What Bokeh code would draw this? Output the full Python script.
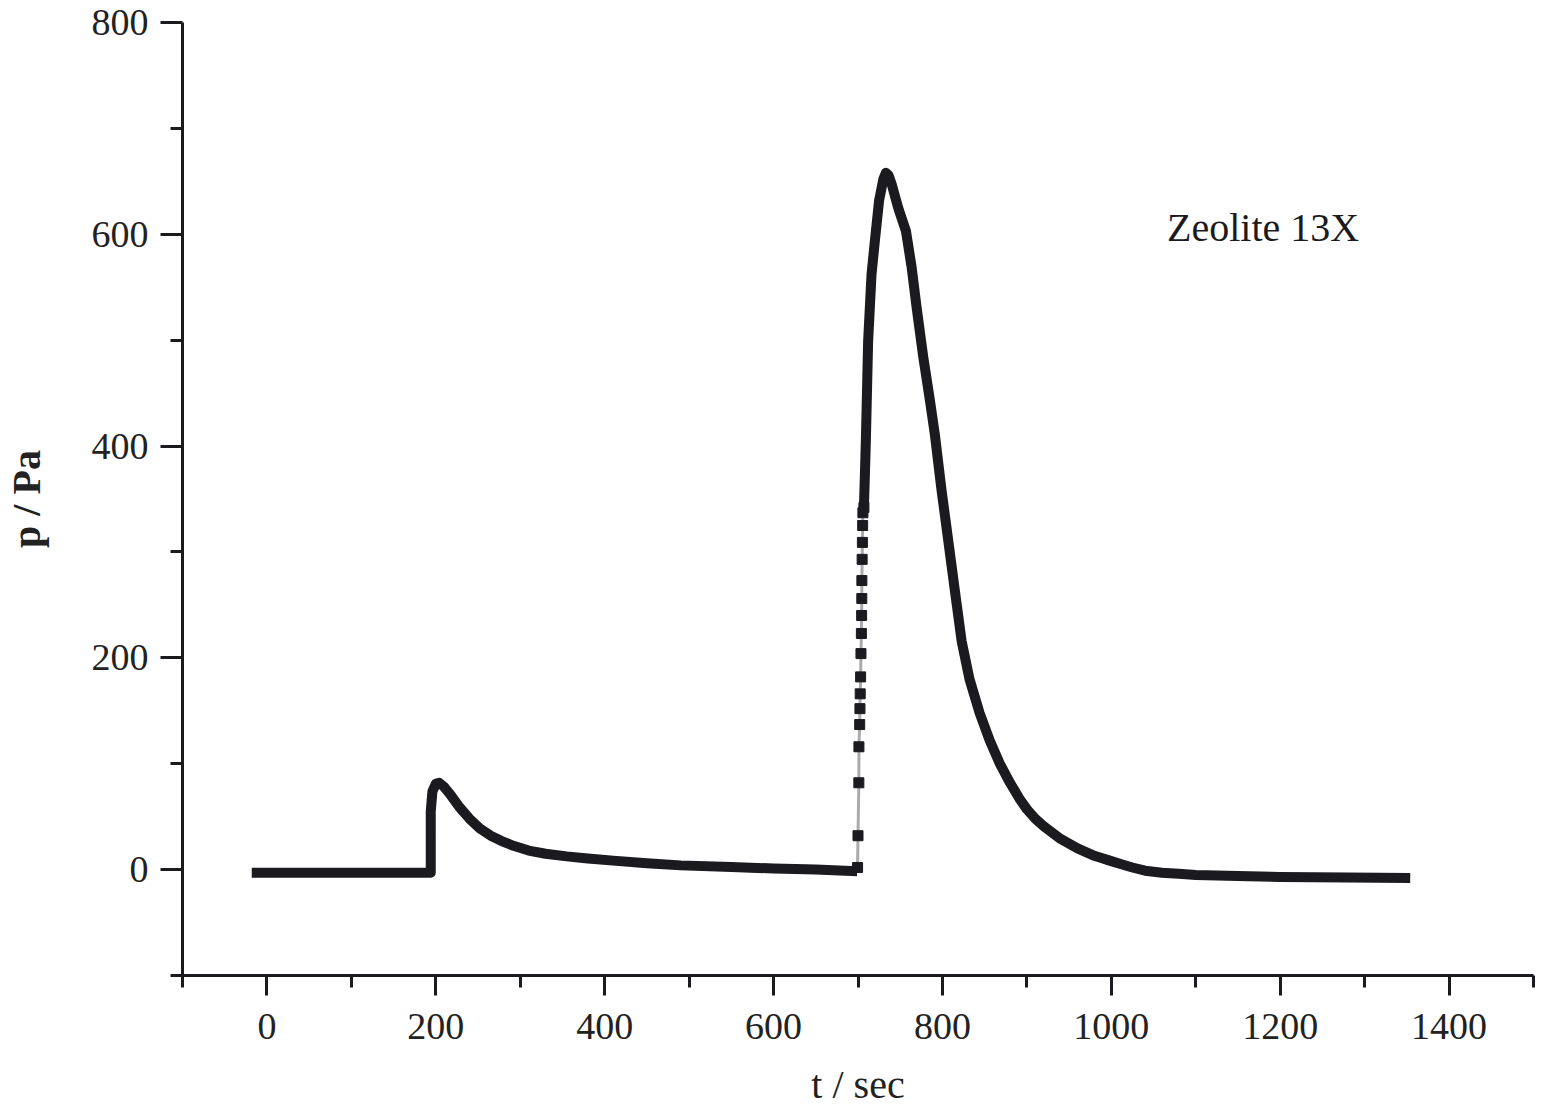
from bokeh.plotting import figure
from bokeh.models import Range1d, FixedTicker, ColumnDataSource
from bokeh.core.properties import value
from bokeh.embed import file_html
from bokeh.resources import INLINE

# ---- data ----
# segment 1: baseline, small adsorption peak and its decay (t in s, p in Pa)
t_seg1 = [-18, 100, 194, 194, 196, 200, 204, 210, 218, 228, 240, 252, 265, 278, 292,
          310, 330, 355, 380, 410, 450, 490, 550, 600, 650, 699]
p_seg1 = [-3, -3, -3, 55, 74, 81, 82, 78, 70, 59, 48, 39, 32, 27, 22.5,
          18, 15, 12.5, 10.5, 8.5, 6, 4, 2.5, 1, 0, -1.5]

# steep rise: individual sample points
t_rise = [699.5, 700, 701, 701.1, 702, 702.3, 702.6, 703.1, 703.5, 704, 704.3, 704.5,
          704.6, 704.9, 705.2, 705.5, 705.8, 707]
p_rise = [2, 32, 82, 116, 137, 152, 166, 182, 204, 223, 240, 256, 273, 293, 309,
          325, 337, 342]

# segment 2: large peak and its decay
t_seg2 = [707, 708.2, 709.4, 712, 716, 720, 725, 730, 733, 736, 740, 747.6, 756.8, 763.5,
          769.4, 777.3, 785.2, 791, 799, 807, 814.8, 822.7, 832, 844, 856, 868,
          880, 892, 900, 910, 920, 940, 960, 980, 1000, 1012, 1025, 1040, 1060, 1080,
          1100, 1150, 1200, 1280, 1354]
p_seg2 = [342, 374, 408, 499, 562, 594, 632, 652, 658, 656, 647, 625, 603, 569,
          531, 484, 443, 411, 358, 310, 263, 216, 180, 148, 122, 100,
          82, 66, 57, 48, 41, 29, 20, 13, 8, 5, 2, -1, -3, -4,
          -5, -6, -7, -7.5, -8]

label_text = ["Zeolite 13X"]
label_x = [1066]
label_y = [606]

x_major = [0, 200, 400, 600, 800, 1000, 1200, 1400]
x_minor = [-100, 100, 300, 500, 700, 900, 1100, 1300, 1500]
y_major = [0, 200, 400, 600, 800]
y_minor = [-100, 100, 300, 500, 700]

INK = "#1b1b1f"
FONT = "Liberation Serif"

p = figure(width=1542, height=1117,
           x_range=Range1d(-100, 1500), y_range=Range1d(-100, 800),
           output_backend="svg", toolbar_location=None,
           min_border_left=182, min_border_right=9,
           min_border_top=22, min_border_bottom=142)
p.outline_line_color = None
p.xgrid.grid_line_color = None
p.ygrid.grid_line_color = None
p.background_fill_color = "white"
p.border_fill_color = "white"

# curve
p.line(t_seg1, p_seg1, line_color=INK, line_width=10, line_join="round", line_cap="butt")
p.line(t_rise, p_rise, line_color="#aaaaaa", line_width=3)
p.scatter(t_rise, p_rise, marker="square", size=10, fill_color=INK, line_color=INK)
p.line(t_seg2, p_seg2, line_color=INK, line_width=10, line_join="round", line_cap="butt")

src = ColumnDataSource(dict(x=label_x, y=label_y, text=label_text))
p.text(x="x", y="y", text="text", source=src, text_font=value(FONT),
       text_font_size="40px", text_color=INK, text_baseline="middle", text_align="left")

# axes
for ax in (p.xaxis[0], p.yaxis[0]):
    ax.axis_line_width = 3
    ax.axis_line_color = INK
    ax.major_tick_line_width = 3
    ax.minor_tick_line_width = 3
    ax.major_tick_line_color = INK
    ax.minor_tick_line_color = INK
    ax.major_tick_in = 0
    ax.minor_tick_in = 0
    ax.minor_tick_out = 12
    ax.major_label_text_font = FONT
    ax.major_label_text_font_size = "38px"
    ax.major_label_text_color = "#222222"
    ax.axis_label_text_font = FONT
    ax.axis_label_text_color = "#222222"

p.xaxis[0].ticker = FixedTicker(ticks=x_major, minor_ticks=x_minor)
p.yaxis[0].ticker = FixedTicker(ticks=y_major, minor_ticks=y_minor)
p.xaxis[0].major_tick_out = 20
p.yaxis[0].major_tick_out = 22
p.xaxis[0].major_label_standoff = 18
p.yaxis[0].major_label_standoff = 12

p.xaxis[0].axis_label = "t / sec"
p.xaxis[0].axis_label_text_font_size = "40px"
p.xaxis[0].axis_label_text_font_style = "normal"
p.xaxis[0].axis_label_standoff = 20

p.yaxis[0].axis_label = "p / Pa"
p.yaxis[0].axis_label_text_font_size = "40px"
p.yaxis[0].axis_label_text_font_style = "bold"
p.yaxis[0].axis_label_standoff = 40

open("out.html", "w").write(file_html(p, INLINE))
